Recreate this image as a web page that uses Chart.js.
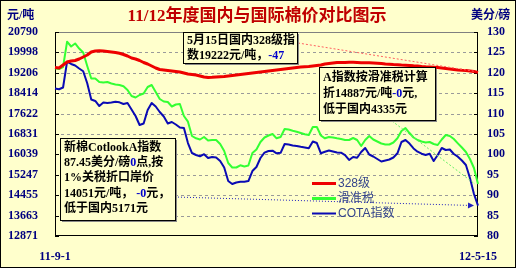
<!DOCTYPE html>
<html><head><meta charset="utf-8">
<script src="https://cdn.jsdelivr.net/npm/chart.js@4/dist/chart.umd.min.js"></script>
<style>html,body{margin:0;padding:0;background:#fff;}canvas{display:block;}</style>
</head><body>
<canvas id="c" width="521" height="269"></canvas>
<script>
const chartTitle = '11/12年度国内与国际棉价对比图示';
const leftUnit = '元/吨';
const rightUnit = '美分/磅';
const xTickLabels = ['11-9-1', '12-5-15'];
const leftTickLabels = ['12871','13663','14455','15247','16039','16831','17622','18414','19206','19998','20790'];
const rightTickLabels = ['80','85','90','95','100','105','110','115','120','125','130'];
const seriesNames = ['328级', '滑准税', 'COTA指数'];

// 328级 (元/吨, left axis)
const price328 = [
 19412,19392,19509,19625,19664,19684,19742,19820,19897,20014,
 20052,20064,20052,20033,20014,19994,19963,19917,19858,19781,
 19742,19684,19606,19548,19470,19392,19334,19315,19295,19276,
 19257,19237,19198,19160,19140,19121,19082,19043,19024,19031,
 19043,19055,19063,19082,19101,19121,19140,19160,19179,19198,
 19218,19237,19257,19276,19295,19315,19334,19354,19373,19392,
 19412,19431,19443,19451,19470,19490,19509,19548,19567,19587,
 19606,19606,19606,19614,19614,19606,19598,19598,19594,19587,
 19579,19567,19548,19540,19528,19521,19509,19501,19490,19478,
 19470,19451,19439,19431,19420,19412,19392,19373,19354,19334,
 19315,19303,19295,19276,19257,19222
];
// 滑准税 (元/吨, left axis)
const slidingTax = [
 19381,19354,19431,20413,20227,20344,20149,19994,19470,18985,
 18985,18849,18830,18849,18791,18752,18733,18682,18538,18306,
 18247,18344,18403,18655,18733,18461,18189,18092,18073,17898,
 17976,17995,17529,17308,16753,16663,16617,16714,16578,16597,
 16597,16442,16170,15705,15530,15530,15615,15569,15608,16093,
 16229,16520,16694,16772,16830,16663,16714,17024,17005,16958,
 16920,16869,16819,16792,17102,17102,16772,16663,16714,16694,
 16663,16636,16597,16597,16675,16597,16365,16597,16753,16617,
 16539,16462,16423,16423,16500,16663,16947,17063,16869,16694,
 16597,16539,16500,16520,16442,16403,16617,16792,16753,16636,
 16469,16306,16132,15860,15510,14887
];
// COTA指数 (美分/磅, right axis)
const cotA = [
 116.15,115.96,116.4,122.72,122.16,121.79,121.05,120.37,117.43,113.46,
 113.09,111.86,112.72,112.6,112.72,112.92,112.77,112.35,112.6,111.0,
 109.41,107.21,107.57,110.88,112.6,111.74,110.39,109.29,107.57,107.94,
 107.33,106.59,106.47,102.79,100.34,99.85,99.53,100.05,99.12,99.36,
 99.24,98.38,96.79,93.48,92.74,93.11,93.31,93.31,93.48,95.93,
 96.91,99.12,100.42,100.83,100.91,100.27,100.39,102.55,102.43,102.18,
 102.06,101.86,101.69,101.49,103.16,102.79,100.27,100.64,100.96,100.71,
 100.46,100.42,99.85,98.63,99.36,99.17,100.59,101.57,99.98,99.49,
 98.87,98.26,98.5,98.75,99.24,100.27,103.04,103.53,102.67,101.45,
 100.66,100.17,99.85,100.17,98.38,99.85,101.57,101.08,101.2,100.1,
 99.44,98.5,97.4,94.22,90.29,87.45
];
const categories = price328.map((_, i) => i);

// annotation texts: [text, colour] segments per line
const note328 = [
 [['5月15日国内328级指', '#000']],
 [['数19222元/吨，', '#000'], ['-47', '#0000cc']]
];
const noteTax = [
 [['A指数按滑准税计算', '#000']],
 [['折14887元/吨', '#000'], ['-0', '#0000cc'], ['元,', '#000']],
 [['低于国内4335元', '#000']]
];
const noteCotA = [
 [['新棉CotlookA指数', '#000']],
 [['87.45美分/磅', '#000'], ['0', '#0000cc'], ['点,按', '#000']],
 [['1%关税折口岸价', '#000']],
 [['14051元/吨， ', '#000'], ['-0', '#0000cc'], ['元，', '#000']],
 [['低于国内5171元', '#000']]
];

const COLORS = ['#ee0000', '#33ff33', '#0a0ab4'];
const NAVY = '#000080';
const BG = '#ffffcc';
const TXT_FONT = "'Liberation Serif','Noto Sans CJK SC',serif";

function line(ctx, x1, y1, x2, y2) { ctx.beginPath(); ctx.moveTo(x1, y1); ctx.lineTo(x2, y2); ctx.stroke(); }

function drawNote(ctx, box, lines, lh) {
  ctx.save();
  ctx.fillStyle = '#888';
  ctx.fillRect(box.x + 2, box.y + 2, box.w, box.h);
  ctx.fillStyle = BG;
  ctx.fillRect(box.x, box.y, box.w, box.h);
  ctx.strokeStyle = '#000'; ctx.lineWidth = 1;
  ctx.strokeRect(box.x + 0.5, box.y + 0.5, box.w, box.h);
  ctx.font = 'bold 12px ' + TXT_FONT;
  ctx.textBaseline = 'middle'; ctx.textAlign = 'left';
  lines.forEach((segs, i) => {
    let x = box.x + 4;
    const y = box.y + box.first + i * lh;
    segs.forEach(([t, c]) => { ctx.fillStyle = c; ctx.fillText(t, x, y); x += ctx.measureText(t).width; });
  });
  ctx.restore();
}

const deco = {
  id: 'deco',
  beforeDraw(chart) {
    const ctx = chart.ctx;
    ctx.save();
    ctx.fillStyle = '#fff'; ctx.fillRect(0, 0, 521, 269);
    ctx.fillStyle = BG; ctx.fillRect(0, 0, 516, 268);
    ctx.strokeStyle = '#000'; ctx.lineWidth = 1; ctx.strokeRect(0.5, 0.5, 515, 267);
    ctx.restore();
  },
  beforeDatasetsDraw(chart) {
    const { ctx, chartArea: a, scales } = chart;
    ctx.save();
    ctx.lineWidth = 1;
    ctx.strokeStyle = '#9a9a9a'; ctx.setLineDash([3, 3]);
    scales.y.ticks.forEach(t => {
      const y = Math.round(scales.y.getPixelForValue(t.value)) + 0.5;
      if (y > a.top + 2 && y < a.bottom - 2) line(ctx, a.left, y, a.right, y);
    });
    ctx.setLineDash([]);
    ctx.strokeStyle = '#808080';
    line(ctx, a.left, a.top + 0.5, a.right, a.top + 0.5);
    ctx.strokeStyle = '#000';
    line(ctx, a.left + 0.5, a.top, a.left + 0.5, a.bottom);
    line(ctx, a.right - 0.5, a.top, a.right - 0.5, a.bottom);
    line(ctx, a.left, a.bottom - 0.5, a.right, a.bottom - 0.5);
    scales.y.ticks.forEach(t => {
      const y = Math.round(scales.y.getPixelForValue(t.value)) + 0.5;
      line(ctx, a.left, y, a.left + 4, y);
    });
    scales.y1.ticks.forEach(t => {
      const y = Math.round(scales.y1.getPixelForValue(t.value)) + 0.5;
      line(ctx, a.right - 4, y, a.right, y);
    });
    ctx.restore();
  },
  afterDraw(chart) {
    const { ctx, scales } = chart;
    const n = categories.length - 1;
    const xe = scales.x.getPixelForValue(n);
    const redEnd = [xe, scales.y.getPixelForValue(price328[n])];
    const grnEnd = [xe, scales.y.getPixelForValue(slidingTax[n])];
    const bluEnd = [xe, scales.y1.getPixelForValue(cotA[n])];
    ctx.save();
    // leader lines
    ctx.lineWidth = 1;
    ctx.setLineDash([2, 2]);
    ctx.strokeStyle = '#ff6060'; line(ctx, 298, 43, redEnd[0] - 3, redEnd[1] - 1);
    ctx.strokeStyle = '#66ee66'; line(ctx, 392, 121, grnEnd[0] - 3, grnEnd[1]);
    ctx.strokeStyle = '#2020c0'; ctx.setLineDash([1, 2]);
    const bx = bluEnd[0] - 4, by = bluEnd[1];
    line(ctx, 175, 197, bx - 5, by - 0.2);
    ctx.setLineDash([]);
    ctx.fillStyle = '#2020c0';
    const ang = Math.atan2(by - 197, bx - 175);
    ctx.beginPath();
    ctx.moveTo(bx, by);
    ctx.lineTo(bx - 6 * Math.cos(ang) + 3 * Math.sin(ang), by - 6 * Math.sin(ang) - 3 * Math.cos(ang));
    ctx.lineTo(bx - 6 * Math.cos(ang) - 3 * Math.sin(ang), by - 6 * Math.sin(ang) + 3 * Math.cos(ang));
    ctx.closePath(); ctx.fill();
    ctx.restore();

    drawNote(ctx, { x: 183, y: 32, w: 114, h: 31, first: 8.5 }, note328, 15.5);
    drawNote(ctx, { x: 319, y: 67, w: 116, h: 53, first: 11 }, noteTax, 16.2);
    drawNote(ctx, { x: 60, y: 138, w: 115, h: 82, first: 10 }, noteCotA, 15.2);

    // legend
    ctx.save();
    ctx.font = "12px 'Liberation Sans','Noto Sans CJK SC',sans-serif";
    ctx.textBaseline = 'middle'; ctx.textAlign = 'left';
    const lw = [3, 3, 2];
    seriesNames.forEach((name, i) => {
      const y = 183.5 + i * 15;
      ctx.strokeStyle = COLORS[i]; ctx.lineWidth = lw[i];
      line(ctx, 312, y, 336, y);
      ctx.fillStyle = '#34448c';
      ctx.fillText(name, 338, y);
    });
    ctx.restore();

    // title and units
    ctx.save();
    ctx.textBaseline = 'middle';
    ctx.textAlign = 'center';
    ctx.fillStyle = '#c00000';
    ctx.font = 'bold 17px ' + TXT_FONT;
    ctx.fillText(chartTitle, 257, 17);
    ctx.fillStyle = NAVY;
    ctx.font = 'bold 12px ' + TXT_FONT;
    ctx.textAlign = 'left';
    ctx.fillText(leftUnit, 7, 16);
    ctx.fillText(rightUnit, 471, 16);
    ctx.restore();
  }
};

const tickFont = { family: "'Liberation Serif'", size: 12, weight: 'bold' };
const leftMin = +leftTickLabels[0], leftMax = +leftTickLabels[leftTickLabels.length - 1];
const rightMin = +rightTickLabels[0], rightMax = +rightTickLabels[rightTickLabels.length - 1];

new Chart(document.getElementById('c'), {
  type: 'line',
  data: {
    labels: categories,
    datasets: [
      { label: seriesNames[0], data: price328, yAxisID: 'y', borderColor: COLORS[0], borderWidth: 3 },
      { label: seriesNames[1], data: slidingTax, yAxisID: 'y', borderColor: COLORS[1], borderWidth: 2 },
      { label: seriesNames[2], data: cotA, yAxisID: 'y1', borderColor: COLORS[2], borderWidth: 2 }
    ]
  },
  options: {
    responsive: false,
    animation: false,
    events: [],
    elements: { point: { radius: 0 }, line: { tension: 0, borderJoinStyle: 'round' } },
    layout: { padding: { left: 0, right: 0, top: 32, bottom: 0 } },
    plugins: { legend: { display: false }, title: { display: false }, tooltip: { enabled: false } },
    scales: {
      x: {
        type: 'category', offset: false,
        grid: { display: false, drawTicks: false }, border: { display: false },
        ticks: {
          autoSkip: false, maxRotation: 0, minRotation: 0, padding: 14,
          color: NAVY, font: tickFont,
          callback: (v, i) => i === 0 ? xTickLabels[0] : (i === categories.length - 1 ? xTickLabels[1] : '')
        },
        afterFit: s => { s.height = 33; }
      },
      y: {
        position: 'left', min: leftMin, max: leftMax,
        grid: { display: false, drawTicks: false }, border: { display: false },
        afterBuildTicks: s => { s.ticks = leftTickLabels.map((_, i) => ({ value: leftMin + i * (leftMax - leftMin) / (leftTickLabels.length - 1) })); },
        ticks: { padding: 17, color: NAVY, font: tickFont, callback: (v, i) => leftTickLabels[i] },
        afterFit: s => { s.width = 55; }
      },
      y1: {
        position: 'right', min: rightMin, max: rightMax,
        grid: { display: false, drawTicks: false }, border: { display: false },
        afterBuildTicks: s => { s.ticks = rightTickLabels.map((_, i) => ({ value: rightMin + i * (rightMax - rightMin) / (rightTickLabels.length - 1) })); },
        ticks: { padding: 9, color: NAVY, font: tickFont, callback: (v, i) => rightTickLabels[i] },
        afterFit: s => { s.width = 43; }
      }
    }
  },
  plugins: [deco]
});
</script>
</body></html>
